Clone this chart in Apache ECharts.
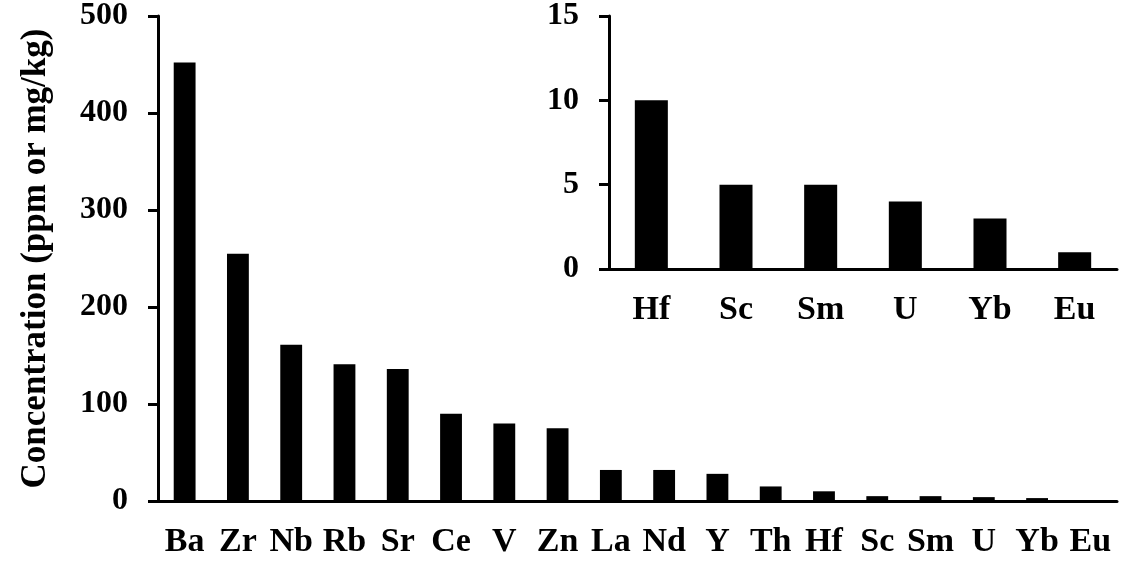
<!DOCTYPE html>
<html>
<head>
<meta charset="utf-8">
<script src="https://cdn.jsdelivr.net/npm/echarts@6/dist/echarts.min.js"></script>
<style>
  html, body { margin: 0; padding: 0; background: #fff; }
  #chart { width: 1132px; height: 571px; }
</style>
</head>
<body>
<div id="chart"></div>
<script>
// Trace element concentrations, all elements
const elements = ['Ba', 'Zr', 'Nb', 'Rb', 'Sr', 'Ce', 'V', 'Zn', 'La', 'Nd', 'Y', 'Th', 'Hf', 'Sc', 'Sm', 'U', 'Yb', 'Eu'];
const concentrations = [452, 255, 161, 141, 136, 90, 80, 75, 32, 32, 28, 15, 10, 5, 5, 4, 3, 1];

// Minor elements, shown enlarged in the inset
const minorElements = ['Hf', 'Sc', 'Sm', 'U', 'Yb', 'Eu'];
const minorConcentrations = [10, 5, 5, 4, 3, 1];

const yTitle = 'Concentration (ppm or mg/kg)';

const FONT = '"Liberation Serif", "Times New Roman", serif';
const axisLine = { show: true, lineStyle: { color: '#000', width: 3 } };
const yTick = { show: true, inside: false, length: 10, lineStyle: { color: '#000', width: 3 } };

const chart = echarts.init(document.getElementById('chart'), null, { renderer: 'canvas' });

chart.setOption({
  backgroundColor: '#fff',
  animation: false,
  grid: [
    { left: 158, right: 15, top: 16, bottom: 70 },
    { left: 609, right: 15, top: 16, bottom: 302 }
  ],
  xAxis: [
    {
      gridIndex: 0, type: 'category', data: elements,
      axisLine: axisLine, axisTick: { show: false },
      axisLabel: { color: '#000', fontFamily: FONT, fontWeight: 'bold', fontSize: 34, margin: 24, interval: 0 },
      splitLine: { show: false }
    },
    {
      gridIndex: 1, type: 'category', data: minorElements,
      axisLine: axisLine, axisTick: { show: false },
      axisLabel: { color: '#000', fontFamily: FONT, fontWeight: 'bold', fontSize: 34, margin: 24, interval: 0 },
      splitLine: { show: false }
    }
  ],
  yAxis: [
    {
      gridIndex: 0, type: 'value', min: 0, max: 500, interval: 100,
      name: yTitle, nameLocation: 'middle', nameGap: 105,
      nameTextStyle: { color: '#000', fontFamily: FONT, fontWeight: 'bold', fontSize: 35 },
      axisLine: axisLine, axisTick: yTick,
      axisLabel: { color: '#000', fontFamily: FONT, fontWeight: 'bold', fontSize: 32, margin: 30 },
      splitLine: { show: false }
    },
    {
      gridIndex: 1, type: 'value', min: 0, max: 15, interval: 5,
      axisLine: axisLine, axisTick: yTick,
      axisLabel: { color: '#000', fontFamily: FONT, fontWeight: 'bold', fontSize: 32, margin: 30 },
      splitLine: { show: false }
    }
  ],
  series: [
    {
      type: 'bar', xAxisIndex: 0, yAxisIndex: 0, data: concentrations,
      barWidth: '41%', itemStyle: { color: '#000' }
    },
    {
      type: 'bar', xAxisIndex: 1, yAxisIndex: 1, data: minorConcentrations,
      barWidth: '39%', itemStyle: { color: '#000' }
    }
  ]
});
</script>
</body>
</html>
